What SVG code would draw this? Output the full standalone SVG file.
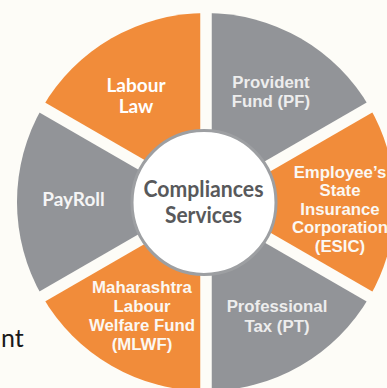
<svg xmlns="http://www.w3.org/2000/svg" width="387" height="388" viewBox="0 0 387 388">
<style>
.bg{fill:#FDFCF7}
.or{fill:#F18C3A}
.gr{fill:#929498}
.gap{stroke:#FDFCF7;stroke-width:11.5;fill:none}
.lc{font-family:Lato,"Open Sans",sans-serif;font-weight:bold;font-size:19px;fill:#FFFFFF;text-anchor:middle}
.la{font-family:"Liberation Sans",Arial,sans-serif;font-weight:bold;font-size:16.8px;fill:#FBF8F3;text-anchor:middle}
.ctr{font-family:Lato,"Open Sans",sans-serif;font-weight:bold;font-size:23px;fill:#58595B;text-anchor:middle}
</style>
<rect class="bg" x="0" y="0" width="387" height="388"/>
<g id="labour-law">
<path class="or" d="M206,202 L42.32,107.5 A189,189 0 0 1 206,13 Z"/>
<text class="lc" x="136" y="92">Labour</text>
<text class="lc" x="136" y="113">Law</text>
</g>
<g id="provident-fund">
<path class="gr" d="M206,202 L206,13 A189,189 0 0 1 369.68,107.5 Z"/>
<text class="la" x="271" y="88" style="fill:#EDEDED">Provident</text>
<text class="la" x="271" y="107" style="fill:#EDEDED">Fund (PF)</text>
</g>
<g id="esic">
<path class="or" d="M206,202 L369.68,107.5 A189,189 0 0 1 369.68,296.5 Z"/>
<text class="la" x="340" y="177.5">Employee’s</text>
<text class="la" x="340" y="196">State</text>
<text class="la" x="340" y="214.5">Insurance</text>
<text class="la" x="340" y="233">Corporation</text>
<text class="la" x="340" y="251.5">(ESIC)</text>
</g>
<g id="professional-tax">
<path class="gr" d="M206,202 L369.68,296.5 A189,189 0 0 1 206,391 Z"/>
<text class="la" x="277" y="312" style="fill:#EDEDED">Professional</text>
<text class="la" x="277" y="332" style="fill:#EDEDED">Tax (PT)</text>
</g>
<g id="mlwf">
<path class="or" d="M206,202 L206,391 A189,189 0 0 1 42.32,296.5 Z"/>
<text class="la" x="142" y="293">Maharashtra</text>
<text class="la" x="142" y="311.5">Labour</text>
<text class="la" x="142" y="330.5">Welfare Fund</text>
<text class="la" x="142" y="350">(MLWF)</text>
</g>
<g id="payroll">
<path class="gr" d="M206,202 L42.32,296.5 A189,189 0 0 1 42.32,107.5 Z"/>
<text class="lc" x="73.5" y="206" style="fill:#F5F5F5">PayRoll</text>
</g>
<g id="gaps">
<line class="gap" x1="206" y1="-10" x2="206" y2="400"/>
<line class="gap" x1="-10" y1="326.7" x2="420" y2="78.4"/>
<line class="gap" x1="-10" y1="77.3" x2="420" y2="325.6"/>
</g>
<g id="center">
<circle cx="204" cy="202.5" r="72" fill="#FFFFFF" stroke="#9D9FA2" stroke-width="3"/>
<text class="ctr" x="203.5" y="197" textLength="120" lengthAdjust="spacingAndGlyphs">Compliances</text>
<text class="ctr" x="203.5" y="223" textLength="77" lengthAdjust="spacingAndGlyphs">Services</text>
</g>
<text x="1" y="347" font-family="Lato,'Open Sans',sans-serif" font-size="25" fill="#1A1A1A">nt</text>
</svg>
